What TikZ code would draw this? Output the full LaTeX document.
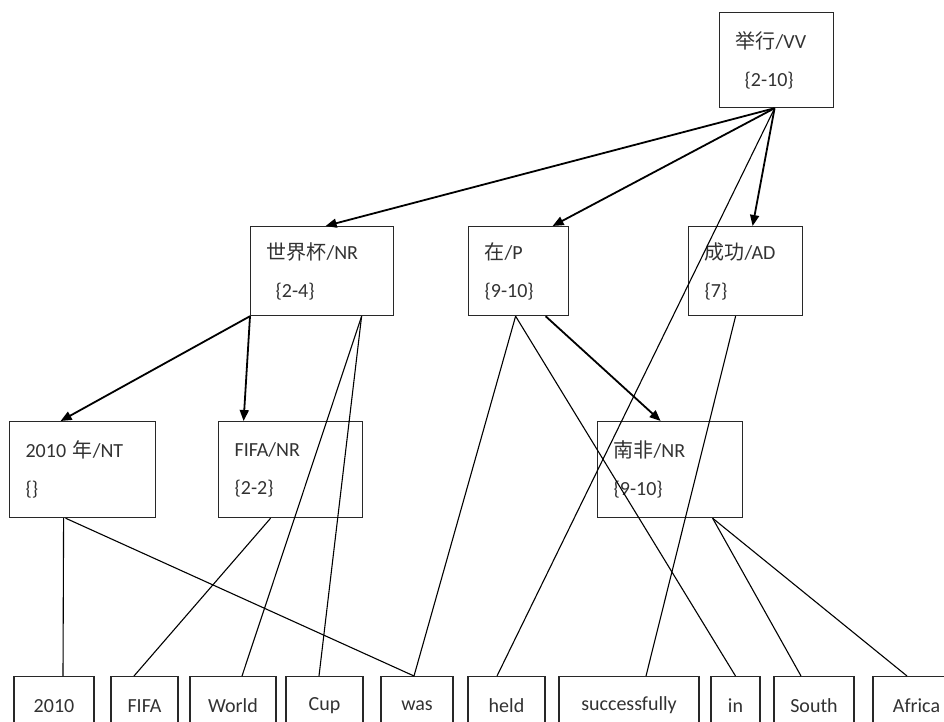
\documentclass[tikz,border=0pt]{standalone}
\usepackage{fontspec}
\setmainfont{Carlito}
\newfontfamily\cjk{Noto Sans CJK SC}
\usepackage{tikz}
\usetikzlibrary{arrows.meta}

\tikzset{
  tagbox/.style={draw=boxColor,line width=1.2pt,anchor=north west,align=left,inner xsep=16pt,inner ysep=0pt,text=textColor},
  wordbox/.style={draw=boxColor,line width=1.2pt,anchor=north,minimum height=58pt,inner sep=0pt,text=textColor},
  deparrow/.style={draw=drawColor,line width=1.8pt,-{Triangle[length=11pt,width=9pt]}},
  wordlink/.style={draw=drawColor,line width=1.1pt}
}

\begin{document}
\begin{tikzpicture}[x=1pt,y=-1pt,font=\fontsize{20}{38}\selectfont]
\definecolor{fillColor}{RGB}{255,255,255}
\definecolor{drawColor}{RGB}{0,0,0}
\definecolor{boxColor}{RGB}{40,40,40}
\definecolor{textColor}{RGB}{50,50,50}
\path[use as bounding box,fill=fillColor] (0,0) rectangle (944,722);
\clip (0,0) rectangle (944,722);

% tag boxes
\node[tagbox,text width=82pt,minimum height=95pt] (juxing) at (719,12) {{\cjk 举行}/VV\\\hspace*{9pt}\{2-10\}};
\node[tagbox,text width=111pt,minimum height=89pt] (shijiebei) at (250,226) {{\cjk 世界杯}/NR\\\hspace*{9pt}\{2-4\}};
\node[tagbox,text width=68pt,minimum height=89pt] (zai) at (468,226) {{\cjk 在}/P\\\{9-10\}};
\node[tagbox,text width=82pt,minimum height=89pt] (chenggong) at (688,226) {{\cjk 成功}/AD\\\{7\}};
\node[tagbox,text width=114pt,minimum height=96pt] (nian) at (9,421) {2010 {\cjk 年}/NT\\\{\}};
\node[tagbox,text width=112pt,minimum height=96pt] (fifa) at (218,421) {FIFA/NR\\\{2-2\}};
\node[tagbox,text width=113pt,minimum height=96pt] (nanfei) at (597,421) {{\cjk 南非}/NR\\\{9-10\}};

% word boxes
\node[wordbox,minimum width=80pt] (w2010) at (54,676) {2010};
\node[wordbox,minimum width=67pt] (wfifa) at (144.5,676) {FIFA};
\node[wordbox,minimum width=86pt] (wworld) at (233,676) {World};
\node[wordbox,minimum width=77pt] (wcup) at (324.5,676) {Cup};
\node[wordbox,minimum width=72pt] (wwas) at (417,676) {was};
\node[wordbox,minimum width=77pt] (wheld) at (506.5,676) {held};
\node[wordbox,minimum width=140pt] (wsucc) at (629,676) {successfully};
\node[wordbox,minimum width=49pt] (win) at (735.5,676) {in};
\node[wordbox,minimum width=80pt] (wsouth) at (814,676) {South};
\node[wordbox,minimum width=87pt] (wafrica) at (916.5,676) {Africa};

% dependency arrows
\draw[deparrow] ([xshift=-2pt]juxing.south) -- ([xshift=3.5pt]shijiebei.north);
\draw[deparrow] ([xshift=-2pt]juxing.south) -- ([xshift=34pt]zai.north);
\draw[deparrow] ([xshift=-2pt]juxing.south) -- ([xshift=7pt]chenggong.north);
\draw[deparrow] (shijiebei.south west) -- ([xshift=-22pt]nian.north);
\draw[deparrow] (shijiebei.south west) -- ([xshift=-47pt]fifa.north);
\draw[deparrow] ([xshift=27pt]zai.south) -- ([xshift=-9.5pt]nanfei.north);

% alignment links
\draw[wordlink] ([xshift=-19pt]nian.south) -- ([xshift=9pt]w2010.north);
\draw[wordlink] ([xshift=-17pt]nian.south) -- ([xshift=-3pt]wwas.north);
\draw[wordlink] ([xshift=-20pt]fifa.south) -- ([xshift=-10.5pt]wfifa.north);
\draw[wordlink] ([xshift=39.5pt]shijiebei.south) -- ([xshift=9pt]wworld.north);
\draw[wordlink] ([xshift=39.5pt]shijiebei.south) -- ([xshift=-5.5pt]wcup.north);
\draw[wordlink] ([xshift=-3pt]zai.south) -- ([xshift=-3pt]wwas.north);
\draw[wordlink] ([xshift=-3pt]zai.south) -- (win.north);
\draw[wordlink] ([xshift=-2pt]juxing.south) -- ([xshift=-9.5pt]wheld.north);
\draw[wordlink] ([xshift=-10pt]chenggong.south) -- ([xshift=17pt]wsucc.north);
\draw[wordlink] ([xshift=42.5pt]nanfei.south) -- ([xshift=-13pt]wsouth.north);
\draw[wordlink] ([xshift=42.5pt]nanfei.south) -- ([xshift=-9.5pt]wafrica.north);
\end{tikzpicture}
\end{document}
